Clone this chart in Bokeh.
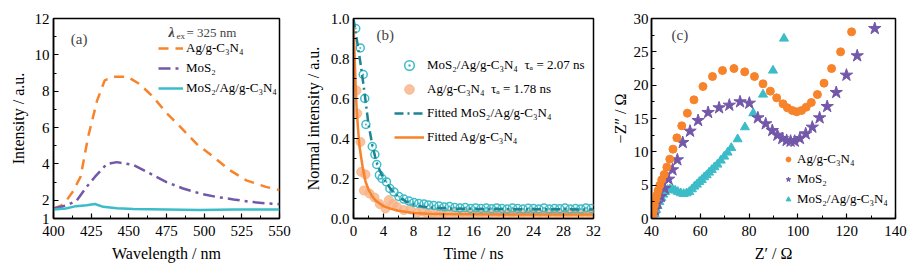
from bokeh.plotting import figure
from bokeh.layouts import row
from bokeh.models import Legend, LegendItem, Label, FixedTicker, Range1d, NumeralTickFormatter
from bokeh.embed import file_html
from bokeh.resources import INLINE

FONT = "Liberation Serif"

# ---------------- Panel (a): PL spectra ----------------
wl_ag = [400, 405, 408, 413, 418, 423, 429, 434, 440, 449, 457, 466, 475, 484, 495, 506, 517, 528, 541, 550]
pl_ag = [1.55, 1.7, 1.92, 2.5, 3.3, 5.5, 7.5, 8.6, 8.8, 8.8, 8.4, 7.7, 6.8, 6.05, 5.1, 4.4, 3.66, 3.1, 2.74, 2.56]
wl_mos = [400, 409, 415.5, 422, 427.6, 435.4, 442, 453, 464, 475, 486, 497, 508, 519.5, 530.5, 541.6, 550]
pl_mos = [1.55, 1.73, 2.0, 2.74, 3.3, 4.0, 4.1, 3.94, 3.48, 3.0, 2.65, 2.38, 2.19, 2.05, 1.92, 1.83, 1.79]
wl_comp = [400, 408, 415, 422, 427.5, 433, 442, 453, 475, 497, 520, 535, 550]
pl_comp = [1.5, 1.55, 1.68, 1.73, 1.8, 1.64, 1.56, 1.52, 1.5, 1.47, 1.5, 1.5, 1.5]

# ---------------- Panel (b): TRPL decay ----------------
t_comp = [0.3, 0.9, 1.3, 1.5, 1.65, 2.5, 2.85, 3.1, 3.45, 3.8, 4.4, 4.85, 5.4, 6.05, 6.7, 7.4, 8.05, 8.7, 9.4,
          10.0, 10.7, 11.4, 12.1, 12.8, 13.5, 14.2, 14.9, 15.6, 16.3, 17.0, 17.7, 18.4, 19.1, 19.8, 20.5,
          21.2, 21.9, 22.6, 23.3, 24.0, 24.7, 25.4, 26.1, 26.8, 27.5, 28.2, 28.9, 29.6, 30.3, 31.0, 31.7]
v_comp = [0.95, 0.853, 0.72, 0.6, 0.47, 0.36, 0.32, 0.27, 0.217, 0.2, 0.183, 0.15, 0.133, 0.11, 0.097, 0.087, 0.08, 0.075, 0.072,
          0.068, 0.065, 0.062, 0.058, 0.06, 0.055, 0.052, 0.055, 0.05, 0.053, 0.05, 0.052, 0.049, 0.053, 0.05, 0.048,
          0.052, 0.05, 0.047, 0.051, 0.05, 0.048, 0.052, 0.047, 0.05, 0.049, 0.052, 0.047, 0.05, 0.048, 0.053, 0.05]
t_ag = [0.4, 0.5, 0.93, 1.02, 1.38, 1.6, 2.13, 2.8, 3.5, 4.27, 4.7, 5.3, 5.82, 6.7, 7.6, 8.5,
        9.2, 9.9, 10.6, 11.3, 12.0, 12.7, 13.4, 14.1, 14.8, 15.5, 16.2, 16.9, 17.6, 18.3, 19.0, 19.7, 20.4,
        21.1, 21.8, 22.5, 23.2, 23.9, 24.6, 25.3, 26.0, 26.7, 27.4, 28.1, 28.8, 29.5, 30.2, 30.9, 31.6]
v_ag = [0.64, 0.525, 0.383, 0.233, 0.14, 0.22, 0.125, 0.105, 0.072, 0.05, 0.092, 0.072, 0.058, 0.042, 0.045, 0.028,
        0.035, 0.022, 0.03, 0.018, 0.028, 0.02, 0.033, 0.017, 0.025, 0.03, 0.02, 0.027, 0.018, 0.032, 0.022, 0.026, 0.017,
        0.03, 0.021, 0.028, 0.019, 0.031, 0.023, 0.018, 0.029, 0.022, 0.026, 0.017, 0.03, 0.021, 0.025, 0.019, 0.028]
tf_comp = [0, 0.5, 1.0, 1.5, 2.0, 2.5, 3.0, 3.5, 4.0, 5.0, 6.0, 7.0, 8.0, 9.0, 10, 12, 14, 16, 20, 24, 28, 32]
vf_comp = [1.0, 0.88, 0.76, 0.62, 0.47, 0.37, 0.29, 0.24, 0.2, 0.145, 0.108, 0.085, 0.07, 0.061, 0.056, 0.051,
           0.049, 0.048, 0.047, 0.046, 0.046, 0.045]
tf_ag = [0, 0.1, 0.25, 0.4, 0.6, 0.8, 1.0, 1.25, 1.6, 2.0, 2.5, 3.0, 4.0, 5.0, 6.0, 8, 10, 12, 16, 20, 24, 28, 32]
vf_ag = [0.97, 0.87, 0.70, 0.56, 0.45, 0.36, 0.31, 0.25, 0.185, 0.145, 0.11, 0.088, 0.062, 0.048, 0.039, 0.028,
         0.024, 0.022, 0.021, 0.02, 0.02, 0.02, 0.02]

# ---------------- Panel (c): EIS Nyquist ----------------
zr_ag = [40.5, 40.8, 41.2, 41.7, 42.2, 42.7, 43.4, 44.2, 45.2, 46.3, 47.5, 48.8, 50.4, 52.4, 54.7, 57.4, 61.1, 65.0,
         69.1, 73.8, 78.2, 82.2, 85.7, 88.7, 91.3, 93.9, 95.7, 97.7, 99.5, 101.5, 103.4, 105.5, 108.0, 110.7, 113.8,
         117.5, 122.0]
zi_ag = [0.5, 1.2, 2.0, 2.8, 3.5, 4.2, 5.0, 5.8, 6.6, 7.7, 8.9, 10.4, 12.1, 13.9, 15.8, 17.8, 19.8, 21.3,
         22.2, 22.5, 22.0, 21.3, 20.2, 19.1, 18.1, 17.2, 16.6, 16.2, 16.0, 16.2, 16.7, 17.4, 18.6, 20.3, 22.5,
         25.0, 28.0]
zr_mos = [40.7, 41.3, 42.4, 43.8, 45.4, 47.0, 48.6, 50.6, 52.8, 55.8, 59.1, 63.2, 67.7, 71.9, 76.3, 80.1, 83.6, 86.8,
          89.5, 91.6, 93.6, 95.4, 97.0, 98.7, 100.8, 103.2, 105.9, 108.9, 112.0, 115.7, 119.9, 124.3, 131.5]
zi_mos = [0.5, 1.3, 2.3, 3.3, 4.5, 5.9, 7.3, 8.8, 11.4, 13.1, 14.7, 15.9, 16.6, 17.0, 17.5, 17.3, 15.1, 14.2,
          13.2, 12.5, 12.0, 11.7, 11.6, 11.6, 12.0, 12.7, 13.7, 15.1, 16.8, 18.9, 21.5, 24.4, 28.5]
zr_comp = [40.8, 41.3, 41.9, 42.5, 43.2, 44.0, 44.8, 45.6, 46.5, 47.5, 48.6, 49.7, 50.8, 52.0, 53.2, 54.4, 55.5, 56.6,
           57.6, 58.6, 59.6, 60.6, 61.6, 62.6, 63.6, 64.7, 65.8, 67.0, 68.4, 69.8, 71.2, 72.7, 75.3, 78.3, 81.7,
           85.7, 89.8, 94.3]
zi_comp = [0.2, 0.7, 1.3, 1.9, 2.5, 3.1, 3.6, 4.0, 4.3, 4.4, 4.4, 4.2, 4.0, 3.8, 3.7, 3.8, 4.0, 4.4,
           4.8, 5.1, 5.5, 5.8, 6.2, 6.5, 6.9, 7.3, 7.7, 8.1, 8.7, 9.3, 9.9, 10.6, 11.9, 13.7, 15.8,
           18.6, 22.2, 27.0]

ORANGE = "#f7832b"
PURPLE = "#7358aa"
CYAN = "#3cbcc8"
TEAL = "#1f8393"
PEACH = "#f8b284"


def make_fig(xr, yr, fw, bl, br, xlabel, ylabel, xt, xm, yt, ym):
    p = figure(frame_width=fw, frame_height=200, min_border_left=bl, min_border_right=br,
               min_border_top=18, min_border_bottom=52, x_range=Range1d(*xr), y_range=Range1d(*yr),
               output_backend="svg", toolbar_location=None)
    p.xgrid.visible = False
    p.ygrid.visible = False
    p.outline_line_color = "black"
    p.outline_line_width = 1.5
    p.outline_line_alpha = 1
    p.background_fill_color = "white"
    p.border_fill_color = "white"
    p.xaxis.ticker = FixedTicker(ticks=xt, minor_ticks=xm)
    p.yaxis.ticker = FixedTicker(ticks=yt, minor_ticks=ym)
    p.xaxis.axis_label = xlabel
    p.yaxis.axis_label = ylabel
    for ax in (p.xaxis[0], p.yaxis[0]):
        ax.axis_line_width = 1.5
        ax.axis_line_color = "black"
        ax.major_tick_in = 5
        ax.major_tick_out = 0
        ax.minor_tick_in = 3
        ax.minor_tick_out = 0
        ax.major_tick_line_width = 1.2
        ax.minor_tick_line_width = 1.0
        ax.major_tick_line_color = "black"
        ax.minor_tick_line_color = "black"
        ax.major_label_text_font = FONT
        ax.major_label_text_font_size = "15px"
        ax.major_label_text_color = "black"
        ax.axis_label_text_font = FONT
        ax.axis_label_text_font_style = "normal"
        ax.axis_label_text_color = "black"
        ax.axis_label_text_font_size = "16px"
    p.xaxis.major_label_standoff = 7
    p.xaxis.axis_label_standoff = 6
    p.yaxis.major_label_standoff = 4
    return p


def make_legend(items, loc, gw, lh):
    lg = Legend(items=items, location=loc, border_line_alpha=0, background_fill_alpha=0,
                padding=0, spacing=0, margin=0, glyph_width=gw, glyph_height=lh, label_height=lh,
                label_standoff=3, label_text_font=FONT, label_text_font_size="13px",
                label_text_color="black")
    return lg


# ---- (a)
pa = make_fig((400, 550), (1, 12), 226, 53, 21, "Wavelength / nm", "Intensity / a.u.",
              [400, 425, 450, 475, 500, 525, 550], [412.5, 437.5, 462.5, 487.5, 512.5, 537.5],
              [1, 2, 4, 6, 8, 10, 12], [3, 5, 7, 9, 11])
pa.yaxis.axis_label_standoff = 5
ra1 = pa.line(wl_ag, pl_ag, line_color=ORANGE, line_width=2.5, line_dash="10 7")
ra2 = pa.line(wl_mos, pl_mos, line_color=PURPLE, line_width=2.5, line_dash="12 5 3 5")
ra3 = pa.line(wl_comp, pl_comp, line_color=CYAN, line_width=2.5)
pa.add_layout(make_legend([LegendItem(label="Ag/g-C₃N₄", renderers=[ra1]),
                           LegendItem(label="MoS₂", renderers=[ra2]),
                           LegendItem(label="MoS₂/Ag/g-C₃N₄", renderers=[ra3])], (105, 120), 25, 20))
pa.add_layout(Label(x=476.3, y=11.24, text="λ", text_font=FONT, text_font_size="14px",
                    text_font_style="bold italic", text_baseline="middle"))
pa.add_layout(Label(x=476.3, y=11.24, x_offset=8, y_offset=-4, text="ex", text_font=FONT, text_font_size="9px",
                    text_baseline="middle"))
pa.add_layout(Label(x=476.3, y=11.24, x_offset=18, text="= 325 nm", text_font=FONT, text_font_size="13px",
                    text_baseline="middle"))
pa.add_layout(Label(x=411.5, y=10.9, text="(a)", text_font=FONT, text_font_size="15px", text_baseline="middle"))

# ---- (b)
pb = make_fig((0, 32), (0, 1), 240, 53, 15, "Time / ns", "Normal intensity / a.u.",
              list(range(0, 33, 4)), list(range(2, 32, 4)),
              [0, 0.2, 0.4, 0.6, 0.8, 1.0], [0.1, 0.3, 0.5, 0.7, 0.9])
pb.yaxis.formatter = NumeralTickFormatter(format="0.0")
pb.yaxis.major_label_standoff = 4
pb.yaxis.axis_label_standoff = 6
rb2 = pb.scatter(t_ag, v_ag, marker="circle", size=9, fill_color=PEACH, fill_alpha=0.8, line_color=PEACH,
                 line_alpha=0.8, line_width=1)
rb1 = pb.scatter(t_comp, v_comp, marker="circle_dot", size=8, fill_color=None, line_color=CYAN, line_width=1.5)
rb4 = pb.line(tf_ag, vf_ag, line_color=ORANGE, line_width=2.5)
rb3 = pb.line(tf_comp, vf_comp, line_color=TEAL, line_width=2.5, line_dash="9 4 2 4")
pb.add_layout(make_legend([LegendItem(label="MoS₂/Ag/g-C₃N₄  τₐ = 2.07 ns", renderers=[rb1]),
                           LegendItem(label="Ag/g-C₃N₄  τₐ = 1.78 ns", renderers=[rb2]),
                           LegendItem(label="Fitted MoS₂/Ag/g-C₃N₄", renderers=[rb3]),
                           LegendItem(label="Fitted Ag/g-C₃N₄", renderers=[rb4])], (41, 69), 30, 24))
pb.add_layout(Label(x=3.07, y=0.917, text="(b)", text_font=FONT, text_font_size="15px", text_baseline="middle"))

# ---- (c)
pc = make_fig((40, 140), (0, 30), 244, 41, 22, "Z′ / Ω", "−Z″ / Ω",
              [40, 60, 80, 100, 120, 140], [50, 70, 90, 110, 130],
              [0, 5, 10, 15, 20, 25, 30], [2.5, 7.5, 12.5, 17.5, 22.5, 27.5])
pc.yaxis.axis_label_standoff = 2
pc.yaxis.major_label_standoff = 3
rc3 = pc.scatter(zr_comp, zi_comp, marker="triangle", size=9, fill_color=CYAN, line_color=CYAN)
rc2 = pc.scatter(zr_mos, zi_mos, marker="star", size=13, fill_color=PURPLE, line_color=PURPLE)
rc1 = pc.scatter(zr_ag, zi_ag, marker="circle", size=8, fill_color=ORANGE, line_color=ORANGE)
pc.add_layout(make_legend([LegendItem(label="Ag/g-C₃N₄", renderers=[rc1]),
                           LegendItem(label="MoS₂", renderers=[rc2]),
                           LegendItem(label="MoS₂/Ag/g-C₃N₄", renderers=[rc3])], (131, 9), 12, 20))
pc.add_layout(Label(x=48.2, y=27.5, text="(c)", text_font=FONT, text_font_size="15px", text_baseline="middle"))

layout = row(pa, pb, pc)
open("out.html", "w").write(file_html(layout, INLINE))
